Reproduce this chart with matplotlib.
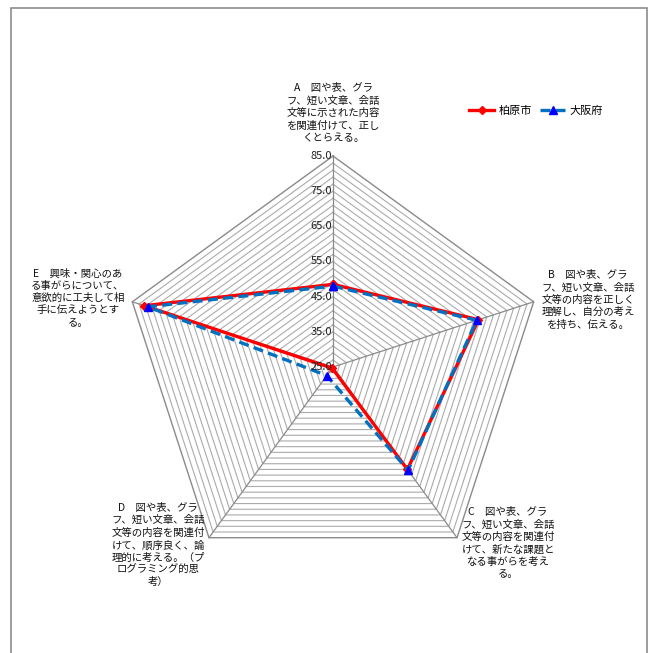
import numpy as np
import matplotlib
matplotlib.use("Agg")
import matplotlib.pyplot as plt
from matplotlib.patches import Rectangle
from matplotlib.lines import Line2D

plt.rcParams['font.family'] = ['Noto Sans CJK JP', 'DejaVu Sans']

categories = [
    "A　図や表、グラ\nフ、短い文章、会話\n文等に示された内容\nを関連付けて、正し\nくとらえる。",
    "B　図や表、グラ\nフ、短い文章、会話\n文等の内容を正しく\n理解し、自分の考え\nを持ち、伝える。",
    "C　図や表、グラ\nフ、短い文章、会話\n文等の内容を関連付\nけて、新たな課題と\nなる事がらを考え\nる。",
    "D　図や表、グラ\nフ、短い文章、会話\n文等の内容を関連付\nけて、順序良く、論\n理的に考える。（プ\nログラミング的思\n考）",
    "E　興味・関心のあ\nる事がらについて、\n意欲的に工夫して相\n手に伝えようとす\nる。",
]
kashiwara = [48.5, 68.5, 61.0, 25.4, 81.4]
osaka = [48.0, 68.0, 61.3, 28.0, 80.4]
series_names = ["柏原市", "大阪府"]

r_min, r_max = 25.0, 85.0
major_step, minor_step = 10.0, 2.0
tick_values = np.arange(r_min, r_max + 0.1, major_step)

W, H, DPI = 650, 653, 100
fig = plt.figure(figsize=(W / DPI, H / DPI), dpi=DPI)

# chart area border
fig.add_artist(Rectangle((11 / W, -0.01), (647 - 11) / W, (H - 8) / H + 0.01,
                         transform=fig.transFigure, fill=False,
                         edgecolor="#8c8c8c", linewidth=1.2))

# axes placed so the radar centre and radius land where intended
cx, cy, rad_px = 333, H - 367, 211
span = r_max - r_min
half = 70.0
px_per_unit = rad_px / span
half_px = half * px_per_unit
ax = fig.add_axes([(cx - half_px) / W, (cy - half_px) / H,
                   2 * half_px / W, 2 * half_px / H])
ax.set_xlim(-half, half)
ax.set_ylim(-half, half)
ax.set_aspect("equal")
ax.axis("off")

n = len(categories)
angles = np.deg2rad(90 - 360 / n * np.arange(n))


def to_xy(values):
    r = np.asarray(values, dtype=float) - r_min
    x = r * np.cos(angles)
    y = r * np.sin(angles)
    return np.append(x, x[0]), np.append(y, y[0])


# polygon gridlines
for v in np.arange(r_min + minor_step, r_max + 0.01, minor_step):
    gx, gy = to_xy([v] * n)
    is_outer = abs(v - r_max) < 1e-6
    ax.plot(gx, gy, color="#8a8a8a" if is_outer else "#ababab",
            lw=1.0 if is_outer else 0.8, zorder=1)

# spokes
for a in angles:
    ax.plot([0, span * np.cos(a)], [0, span * np.sin(a)],
            color="#8a8a8a", lw=0.9, zorder=1)

# radial tick labels along the top spoke
for v in tick_values:
    ax.text(-0.3, v - r_min, f"{v:.1f}", ha="right", va="center",
            fontsize=8, color="#222222", zorder=5)

# series
kx, ky = to_xy(kashiwara)
ox, oy = to_xy(osaka)
ax.plot(kx, ky, color="#ff0000", lw=2.4, marker="D", markersize=4.2,
        markerfacecolor="#ff0000", markeredgecolor="#ff0000", zorder=3)
ax.plot(ox, oy, color="#0070c0", lw=2.4, linestyle=(0, (3.0, 1.6)),
        marker="^", markersize=5.5, markerfacecolor="#0000ff",
        markeredgecolor="#0000ff", zorder=4)

# category labels (figure pixel positions of each text block centre)
label_pos = [(333, 113), (588, 300), (508, 543), (158, 545), (78, 298)]
for text, (lx, ly) in zip(categories, label_pos):
    fig.text(lx / W, 1 - ly / H, text, ha="center", va="center",
             fontsize=7.5, linespacing=1.28, color="#111111")

# legend
handles = [
    Line2D([], [], color="#ff0000", lw=2.4, marker="D", markersize=4.2,
           markerfacecolor="#ff0000", markeredgecolor="#ff0000"),
    Line2D([], [], color="#0070c0", lw=2.4, linestyle=(0, (3.0, 1.6)),
           marker="^", markersize=5.5, markerfacecolor="#0000ff",
           markeredgecolor="#0000ff"),
]
fig.legend(handles, series_names, loc="center", ncol=2,
           bbox_to_anchor=(536 / W, 1 - 111 / H), frameon=False,
           fontsize=8, handlelength=2.2, handletextpad=0.4,
           columnspacing=0.8)

fig.savefig("out.png", dpi=DPI)
